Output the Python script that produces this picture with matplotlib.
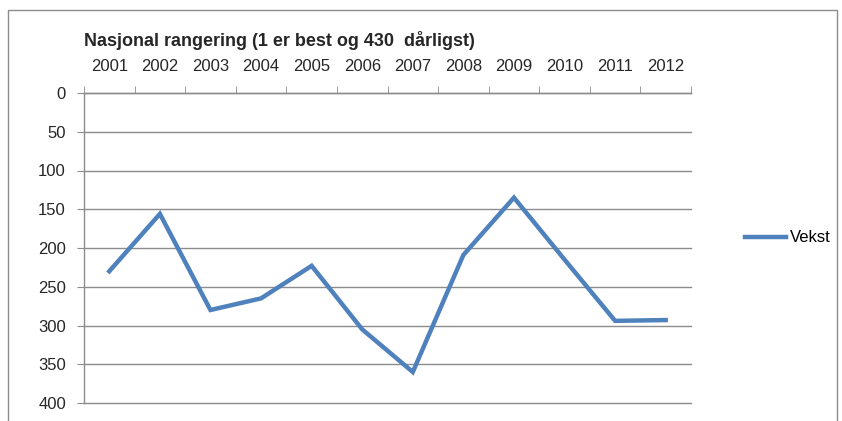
import matplotlib
matplotlib.use("Agg")
import matplotlib.pyplot as plt
from matplotlib.patches import Rectangle

years = ["2001", "2002", "2003", "2004", "2005", "2006", "2007", "2008", "2009", "2010", "2011", "2012"]
vekst = [230, 156, 280, 265, 223, 305, 360, 209, 135, 215, 294, 293]
yticks = [0, 50, 100, 150, 200, 250, 300, 350, 400]
title = "Nasjonal rangering (1 er best og 430  dårligst)"

plt.rcParams['font.family'] = ['Liberation Sans', 'DejaVu Sans']

W, H = 842, 421
fig = plt.figure(figsize=(W / 100, H / 100), dpi=100)
fig.patches.append(Rectangle((8 / W, -0.1), (837 - 8) / W, 1.1 - 10 / H,
                             transform=fig.transFigure, fill=False,
                             edgecolor="#8c8c8c", linewidth=1.0))

ax = fig.add_axes([84 / W, 1 - 403 / H, (691 - 84) / W, (403 - 93) / H])
x = list(range(len(years)))
ax.plot(x, vekst, color="#4F81BD", linewidth=3.2, label="Vekst", solid_joinstyle="miter")
ax.set_xlim(-0.5, len(years) - 0.5)
ax.set_ylim(400, 0)

ax.xaxis.tick_top()
ax.set_xticks(x)
ax.set_xticklabels(years, fontsize=12, color="#262626")
ax.tick_params(axis="x", which="major", length=0, pad=14)
ax.set_xticks([i - 0.5 for i in range(len(years) + 1)], minor=True)
ax.tick_params(axis="x", which="minor", length=5, color="#8c8c8c", top=True, bottom=False)

ax.set_yticks(yticks)
ax.set_yticklabels([str(v) for v in yticks], fontsize=12, color="#262626")
ax.tick_params(axis="y", length=5, color="#8c8c8c", pad=8)

ax.grid(axis="y", color="#8c8c8c", linewidth=1.0)
for gl in ax.get_ygridlines():
    gl.set_clip_on(False)
ax.set_axisbelow(True)
for s in ["right", "bottom"]:
    ax.spines[s].set_visible(False)
for s in ["left", "top"]:
    ax.spines[s].set_color("#8c8c8c")
    ax.spines[s].set_linewidth(1.0)

fig.text(84 / W, 1 - 40 / H, title, fontsize=13, fontweight="bold",
         color="#262626", va="center", ha="left")

leg = fig.legend(loc="center left", bbox_to_anchor=(738 / W, 1 - 238 / H), frameon=False,
                 fontsize=12, handlelength=2.5, handletextpad=0.2, borderaxespad=0)

fig.savefig("out.png", dpi=100)
